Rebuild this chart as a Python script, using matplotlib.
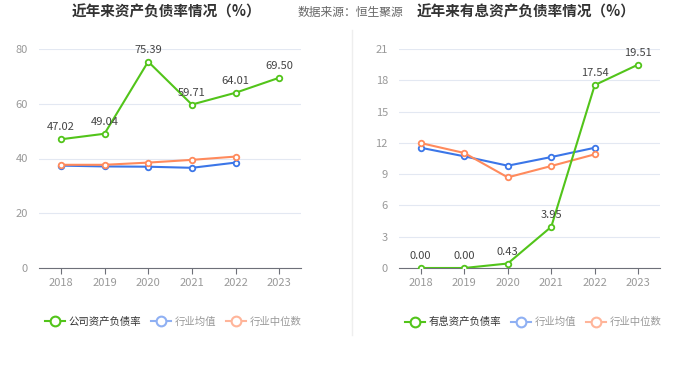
import matplotlib.pyplot as plt
from matplotlib.lines import Line2D

plt.rcParams['font.family'] = ['Noto Sans CJK SC', 'DejaVu Sans']

years = ['2018', '2019', '2020', '2021', '2022', '2023']

# left chart: asset-liability ratio
company_ratio = [47.02, 49.04, 75.39, 59.71, 64.01, 69.50]
industry_mean = [37.4, 37.1, 37.0, 36.6, 38.5]
industry_median = [37.7, 37.7, 38.5, 39.5, 40.7]

# right chart: interest-bearing debt ratio
company_debt = [0.00, 0.00, 0.43, 3.95, 17.54, 19.51]
debt_mean = [11.53, 10.71, 9.81, 10.64, 11.53]
debt_median = [11.98, 11.03, 8.69, 9.78, 10.90]

green = '#52c41a'
blue = '#3b76e8'
orange = '#ff8a5c'

fig = plt.figure(figsize=(7, 3.77), dpi=100)
W, H = 700, 377


def make_axes(left, right, top, bottom):
    return fig.add_axes([left / W, 1 - bottom / H, (right - left) / W, (bottom - top) / H])


def draw(ax, comp, mean, med, ymax, step, label_fmt):
    x = list(range(len(years)))
    kw = dict(lw=1.5, marker='o', ms=4, mfc='white', mew=1.3, zorder=3)
    ax.plot(x[:len(mean)], mean, color=blue, **kw)
    ax.plot(x[:len(med)], med, color=orange, **kw)
    ax.plot(x, comp, color=green, **kw)
    for xi, v in zip(x, comp):
        ax.annotate(label_fmt.format(v), (xi, v), xytext=(0, 5), textcoords='offset points',
                    ha='center', va='bottom', fontsize=8, color='#444444', zorder=4)
    ax.set_xlim(-0.5, len(years) - 0.5)
    ax.set_ylim(0, ymax)
    ax.set_yticks(range(0, ymax + 1, step))
    ax.set_xticks(x)
    ax.set_xticklabels(years)
    ax.grid(axis='y', color='#e3e8f2', lw=0.8)
    ax.set_axisbelow(True)
    for s in ['top', 'right', 'left']:
        ax.spines[s].set_visible(False)
    ax.spines['bottom'].set_color('#6e7079')
    ax.tick_params(axis='y', length=0, colors='#999999', labelsize=8, pad=8)
    ax.tick_params(axis='x', length=4, color='#6e7079', colors='#999999', labelsize=8)


def legend(first_label, x0):
    handles = [
        Line2D([], [], color=green, lw=1.5, marker='o', ms=7, mfc='white', mew=1.5),
        Line2D([], [], color='#8fb0f3', lw=1.5, marker='o', ms=7, mfc='white', mew=1.5),
        Line2D([], [], color='#ffb59a', lw=1.5, marker='o', ms=7, mfc='white', mew=1.5),
    ]
    lg = fig.legend(handles, [first_label, '行业均值', '行业中位数'], loc='center left',
                    bbox_to_anchor=(x0 / W, 1 - 322 / H), ncol=3, frameon=False,
                    fontsize=7.5, handlelength=1.9, handletextpad=0.4, columnspacing=0.9,
                    borderpad=0, borderaxespad=0)
    for i, t in enumerate(lg.get_texts()):
        t.set_color('#333333' if i == 0 else '#999999')


ax1 = make_axes(39, 301, 49, 268)
draw(ax1, company_ratio, industry_mean, industry_median, 80, 20, '{:.2f}')
ax2 = make_axes(399, 660, 49, 268)
draw(ax2, company_debt, debt_mean, debt_median, 21, 3, '{:.2f}')

legend('公司资产负债率', 45)
legend('有息资产负债率', 405)

fig.text(166 / W, 1 - 12 / H, '近年来资产负债率情况（%）', ha='center', va='center',
         fontsize=10.5, fontweight='bold', color='#333333')
fig.text(526 / W, 1 - 12 / H, '近年来有息资产负债率情况（%）', ha='center', va='center',
         fontsize=10.5, fontweight='bold', color='#333333')
fig.text(350 / W, 1 - 12 / H, '数据来源：恒生聚源', ha='center', va='center',
         fontsize=8.5, color='#666666')

fig.add_artist(Line2D([352 / W, 352 / W], [1 - 30 / H, 1 - 335 / H], color='#eeeeee', lw=1))

fig.savefig('out.png', dpi=100, facecolor='white')
